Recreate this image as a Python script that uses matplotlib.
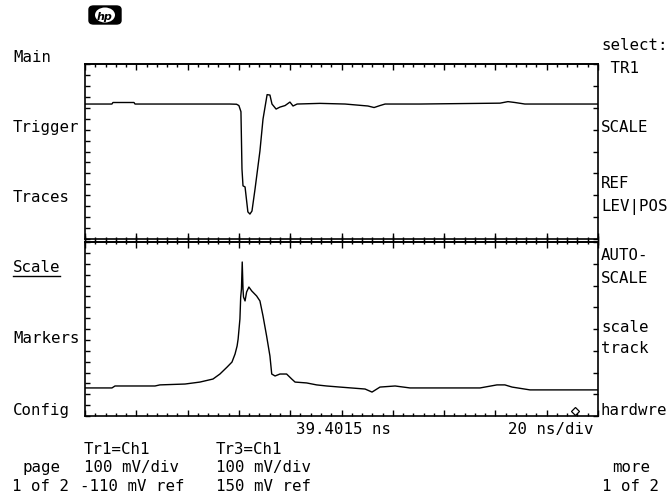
import matplotlib
matplotlib.use("Agg")
import matplotlib.pyplot as plt
import numpy as np
from matplotlib.ticker import FixedLocator, NullFormatter
from matplotlib.patches import FancyBboxPatch, Ellipse
from matplotlib.lines import Line2D

W, H = 669, 502

# scope settings (from the status lines)
center_ns = 39.4015
ns_per_div = 20
mv_per_div = 100
tr1_ref = -110
tr3_ref = 150

# Tr1 (upper window)
tr1_t = [-60.6, -50.1, -49.7, -41.5, -41.1, -4.1, -1.5, -0.6, 0.2, 0.6, 1.0, 1.8,
         2.9, 3.7, 4.5, 5.7, 7.6, 8.8, 10.4, 11.5, 12.3, 13.9, 15.4, 17.4, 19.3,
         20.5, 22.1, 31.0, 40.8, 49.7, 52.1, 54.4, 56.4, 70.0, 101.2, 104.3,
         107.0, 110.9, 139.4]
tr1_mv = [107, 107, 114, 114, 107, 107, 106, 100, 72, -190, -267, -272,
          -386, -396, -382, -281, -108, 38, 150, 148, 107, 84, 93, 100, 116,
          98, 107, 110, 107, 98, 91, 100, 107, 107, 111, 118,
          114, 107, 107]

# Tr3 (lower window)
tr3_t = [-60.6, -50.1, -48.9, -33.3, -31.4, -21.6, -15.8, -10.7, -8.0, -5.2, -3.3,
         -2.1, -1.3, -0.9, -0.2, 0.1, 0.4, 0.7, 1.0, 1.2, 1.8, 2.4, 3.3, 4.4,
         6.3, 7.6, 8.8, 10.2, 11.5, 12.2, 13.5, 15.4, 18.0, 20.0, 21.3, 25.8,
         29.7, 33.6, 38.8, 48.6, 51.3, 54.4, 60.3, 66.1, 93.4, 100.0, 103.1,
         105.9, 112.9, 139.4]
tr3_mv = [-121, -121, -112, -112, -107, -103, -94, -80, -57, -25, -2,
          35, 72, 104, 196, 297, 334, 458, 334, 297, 279, 320, 343, 325,
          302, 279, 210, 118, 26, -57, -66, -57, -57, -80, -94, -98,
          -107, -112, -117, -126, -140, -117, -112, -121, -121, -107, -107,
          -117, -130, -130]

marker_t = [130.4]
marker_mv = [-227]

left_menu = ["Main", "Trigger", "Traces", "Scale", "Markers", "Config"]
left_base = [62, 132, 202, 272, 343, 415]
right_menu = ["select:", " TR1", "SCALE", "REF", "LEV|POS", "AUTO-", "SCALE",
              "scale", "track", "hardwre"]
right_base = [50, 73, 132, 188, 211, 260, 283, 332, 353, 415]

mono = "DejaVu Sans Mono"
fs = 11.3

fig = plt.figure(figsize=(W / 100, H / 100), dpi=100)


def fx(x):
    return x / W


def fy(y):
    return 1 - y / H


def put(x, y, s, ha="left"):
    fig.text(fx(x), fy(y), s, ha=ha, va="baseline", family=mono, fontsize=fs)


def panel(top_px, bot_px, ref, top_dir, bot_dir):
    ax = fig.add_axes([fx(85), fy(bot_px), (598 - 85) / W, (bot_px - top_px) / H])
    ax.set_xlim(center_ns - 5 * ns_per_div, center_ns + 5 * ns_per_div)
    ax.set_ylim(ref - 4 * mv_per_div, ref + 4 * mv_per_div)
    xmaj = center_ns + ns_per_div * np.arange(-5, 6)
    xmin = center_ns + ns_per_div / 5 * np.arange(-25, 26)
    ax.xaxis.set_major_locator(FixedLocator(xmaj))
    ax.xaxis.set_minor_locator(FixedLocator(xmin))
    ax.yaxis.set_major_locator(FixedLocator(ref + mv_per_div * np.arange(-4, 5)))
    ax.yaxis.set_minor_locator(FixedLocator(ref + mv_per_div / 2 * np.arange(-8, 9)))
    ax.yaxis.remove_overlapping_locs = False
    for sp in ax.spines.values():
        sp.set_linewidth(1.2)
    ln = 8 if bot_dir == "inout" else 4.5
    ax.tick_params(axis="x", which="major", direction=bot_dir, length=ln, width=1,
                   top=False, labelbottom=False)
    ax.tick_params(axis="x", which="minor", direction=bot_dir,
                   length=3 if bot_dir == "inout" else 2.2, width=1, top=False)
    ax.tick_params(axis="y", which="major", direction="in", length=3.6, width=1,
                   left=False, right=True, labelleft=False)
    ax.tick_params(axis="y", which="minor", direction="in", length=3.6, width=1,
                   left=True, right=False)
    sec = ax.secondary_xaxis("top")
    sec.xaxis.set_major_locator(FixedLocator(xmaj))
    sec.xaxis.set_minor_locator(FixedLocator(xmin))
    sec.xaxis.set_major_formatter(NullFormatter())
    sec.spines["top"].set_linewidth(1.2)
    sec.tick_params(which="major", direction=top_dir, width=1,
                    length=8 if top_dir == "inout" else 4.5)
    sec.tick_params(which="minor", direction=top_dir, width=1,
                    length=3 if top_dir == "inout" else 2.2)
    return ax


ax1 = panel(65, 240, tr1_ref, "in", "inout")
ax2 = panel(243, 417, tr3_ref, "inout", "in")

ax1.plot(tr1_t, tr1_mv, color="black", lw=1.0)
ax2.plot(tr3_t, tr3_mv, color="black", lw=1.0)
ax2.plot(marker_t, marker_mv, marker="D", ms=4, mfc="white", mec="black", mew=0.9,
         ls="none")

# soft-key labels
for s, b in zip(left_menu, left_base):
    put(13, b, s)
fig.add_artist(Line2D([fx(13), fx(60)], [fy(277), fy(277)], color="black", lw=1))
for s, b in zip(right_menu, right_base):
    put(601, b, s)

# status lines
put(296, 434, "39.4015 ns")
put(594, 434, "20 ns/div", ha="right")
put(84, 454, "Tr1=Ch1")
put(84, 472, "100 mV/div")
put(80, 491, "-110 mV ref")
put(216, 454, "Tr3=Ch1")
put(216, 472, "100 mV/div")
put(216, 491, "150 mV ref")
put(41, 472, "page", ha="center")
put(41, 491, "1 of 2", ha="center")
put(631, 472, "more", ha="center")
put(631, 491, "1 of 2", ha="center")

# hp logo
fig.add_artist(FancyBboxPatch((fx(89), fy(25)), fx(32), 18 / H,
                              boxstyle="round,pad=0,rounding_size=0.007",
                              fc="black", ec="black", transform=fig.transFigure))
fig.add_artist(Ellipse((fx(105), fy(16)), fx(20), 15 / H, fc="white", ec="none",
                       transform=fig.transFigure))
fig.text(fx(105), fy(16.5), "hp", ha="center", va="center", fontsize=8,
         style="italic", weight="bold", family="DejaVu Sans")

fig.savefig("out.png", dpi=100)
